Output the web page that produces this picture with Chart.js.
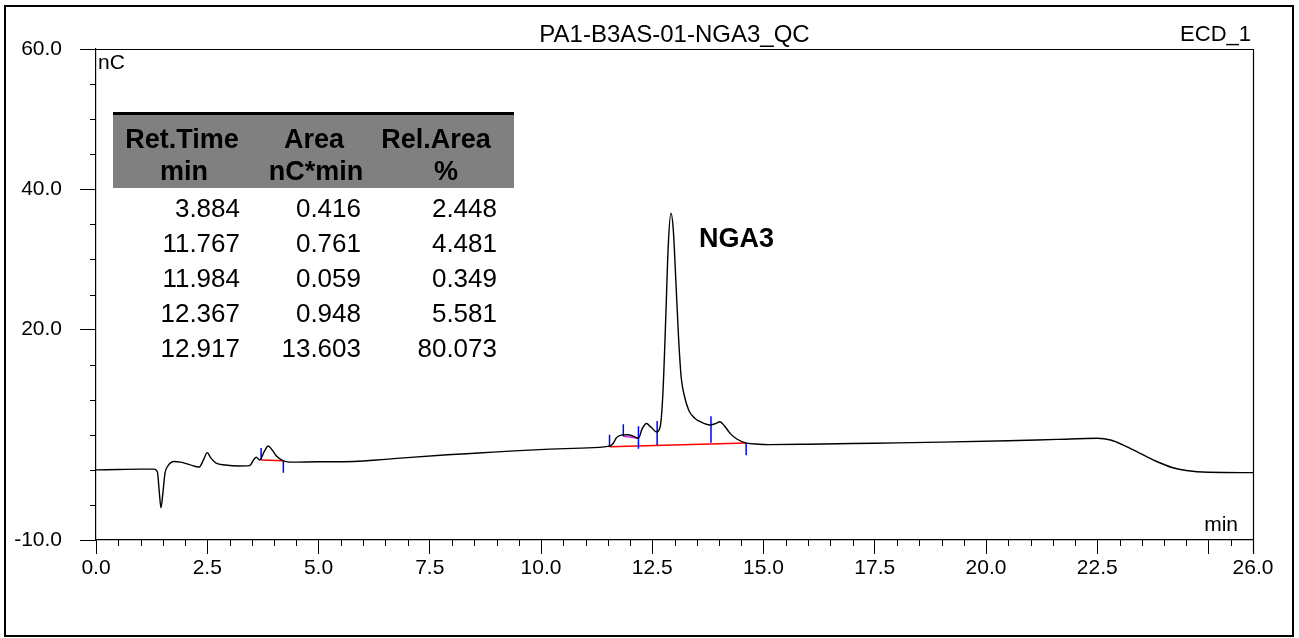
<!DOCTYPE html>
<html>
<head>
<meta charset="utf-8">
<title>PA1-B3AS-01-NGA3_QC</title>
<script src="https://cdn.jsdelivr.net/npm/chart.js@4.4.1/dist/chart.umd.min.js"></script>
<style>
    body { margin: 0; background: #fff; }
    #wrap { position: relative; width: 1299px; height: 638px; }
</style>
</head>
<body>
<div id="wrap"><canvas id="chromChart"></canvas></div>
<script>
// Chromatogram trace (time in min, signal in nC)
const traceTime = [
    0.0, 0.5, 1.0, 1.3, 1.38, 1.42, 1.46, 1.5, 1.55, 1.62, 1.75, 1.9, 2.1, 2.32, 2.42, 2.5, 2.58, 2.7, 2.9, 3.2,
    3.45, 3.55, 3.6, 3.68, 3.78, 3.87, 3.95, 4.05, 4.2, 4.35, 5.0, 5.8, 6.5, 7.0, 7.9, 8.6, 9.4, 10.2, 10.9, 11.5,
    11.6, 11.7, 11.8, 11.95, 12.07, 12.19, 12.27, 12.37, 12.47, 12.6, 12.68, 12.74, 12.8, 12.86, 12.92, 12.97, 13.03, 13.09, 13.15, 13.22,
    13.32, 13.45, 13.6, 13.8, 13.92, 14.02, 14.12, 14.25, 14.4, 14.6, 14.9, 15.1, 16.0, 17.5, 19.0, 20.5, 21.6, 22.5, 22.8, 23.1,
    23.45, 23.8, 24.2, 24.5, 25.0, 26.0
];
const traceSignal = [
    0.0, 0.05, 0.1, 0.1, -0.3, -3.0, -5.4, -3.5, -0.5, 0.6, 1.2, 1.1, 0.75, 0.4, 1.5, 2.45, 1.7, 0.95, 0.7, 0.55,
    0.6, 1.5, 1.8, 1.4, 2.6, 3.4, 2.9, 2.0, 1.3, 1.1, 1.15, 1.2, 1.5, 1.75, 2.15, 2.4, 2.7, 2.95, 3.1, 3.35,
    3.6, 4.6, 4.95, 5.0, 4.8, 4.5, 5.8, 6.6, 6.1, 5.4, 6.2, 11, 21, 32, 36.6, 34.5, 27, 19, 13.2, 10.6,
    8.5, 7.4, 6.8, 6.4, 6.6, 6.85, 6.3, 5.2, 4.4, 3.85, 3.65, 3.6, 3.65, 3.8, 3.95, 4.15, 4.35, 4.5, 4.25, 3.5,
    2.4, 1.3, 0.3, -0.1, -0.35, -0.4
];

// integration baselines [t1, y1, t2, y2] and peak delimiters [t, yFrom, yTo]
const baselineSegments = [[3.71, 1.42, 4.21, 1.3], [11.54, 3.3, 14.61, 3.83]];
const shoulderBaseline = [[11.85, 4.8, 12.19, 4.5]];
const delimiterTicks = [
    [3.71, 1.4, 3.1], [4.21, 1.3, -0.4], [11.54, 3.3, 5.0], [11.85, 4.8, 6.5],
    [12.19, 3.0, 6.2], [12.61, 3.55, 6.95], [13.82, 3.85, 7.65], [14.61, 3.85, 2.1]
];

// peak table
const retTimes = ['3.884', '11.767', '11.984', '12.367', '12.917'];
const areas = ['0.416', '0.761', '0.059', '0.948', '13.603'];
const relAreas = ['2.448', '4.481', '0.349', '5.581', '80.073'];

// axis labels
const xLabelValues = [0, 2.5, 5, 7.5, 10, 12.5, 15, 17.5, 20, 22.5, 26];
const yLabelValues = [-10, 20, 40, 60];

const FONT = '"Liberation Sans", Arial, sans-serif';

function isMajorX(v) {
    return Math.abs(v / 2.5 - Math.round(v / 2.5)) < 1e-6 || v === 26;
}

function segmentPoints(list) {
    const pts = [];
    list.forEach(function(s) {
        pts.push({x: s[0], y: s[1]}, {x: s[2], y: s[3]}, {x: s[2], y: null});
    });
    return pts;
}

const delimiterData = [];
delimiterTicks.forEach(function(d) {
    delimiterData.push({x: d[0], y: d[1]}, {x: d[0], y: d[2]}, {x: d[0], y: null});
});

// frame, minor ticks, texts and peak table
const decorPlugin = {
    id: 'decor',
    afterDraw: function(chart) {
        const c = chart.ctx;
        const area = chart.chartArea;
        const xs = chart.scales.x;
        const ys = chart.scales.y;
        c.save();

        // outer frame
        c.strokeStyle = '#000';
        c.lineWidth = 2;
        c.strokeRect(5, 6, 1288, 630);

        // top and right border of plot
        c.lineWidth = 1.2;
        c.beginPath();
        c.moveTo(area.left, area.top + 0.5);
        c.lineTo(area.right + 0.5, area.top + 0.5);
        c.lineTo(area.right + 0.5, area.bottom + 14);
        c.stroke();

        // minor ticks
        c.lineWidth = 1;
        c.beginPath();
        for (let v = 0.5; v < 26; v += 0.5) {
            if (isMajorX(v)) continue;
            const px = Math.round(xs.getPixelForValue(v)) + 0.5;
            c.moveTo(px, area.bottom);
            c.lineTo(px, area.bottom + 6);
        }
        for (let v = -5; v < 60; v += 5) {
            if (yLabelValues.indexOf(v) >= 0) continue;
            const py = Math.round(ys.getPixelForValue(v)) + 0.5;
            c.moveTo(area.left - 6, py);
            c.lineTo(area.left, py);
        }
        c.stroke();

        // titles and units
        c.fillStyle = '#000';
        c.textBaseline = 'middle';
        c.font = '24px ' + FONT;
        c.textAlign = 'center';
        c.fillText('PA1-B3AS-01-NGA3_QC', (area.left + area.right) / 2, 35);
        c.font = '22px ' + FONT;
        c.textAlign = 'right';
        c.fillText('ECD_1', area.right - 2, 35);
        c.font = '21px ' + FONT;
        c.textAlign = 'left';
        c.fillText('nC', area.left + 2, 63);
        c.textAlign = 'right';
        c.fillText('min', area.right - 15, 525);

        // peak name
        c.font = 'bold 27px ' + FONT;
        c.textAlign = 'left';
        c.fillText('NGA3', xs.getPixelForValue(13.55), ys.getPixelForValue(32.8));

        // peak table
        c.fillStyle = '#808080';
        c.fillRect(113, 114, 401, 74);
        c.fillStyle = '#000';
        c.fillRect(113, 112, 401, 3);
        c.font = 'bold 27px ' + FONT;
        c.textAlign = 'center';
        const heads = [['Ret.Time', 'min', 182, 184], ['Area', 'nC*min', 314, 316], ['Rel.Area', '%', 436, 446]];
        heads.forEach(function(h) {
            c.fillText(h[0], h[2], 141);
            c.fillText(h[1], h[3], 173);
        });
        c.font = '26px ' + FONT;
        c.textAlign = 'right';
        retTimes.forEach(function(rt, i) {
            const y = 210 + i * 35;
            c.fillText(rt, 240, y);
            c.fillText(areas[i], 361, y);
            c.fillText(relAreas[i], 497, y);
        });
        c.restore();
    }
};

const ctx = document.getElementById('chromChart');
new Chart(ctx, {
    type: 'line',
    data: {
        datasets: [{
            data: traceTime.map(function(t, i) { return {x: t, y: traceSignal[i]}; }),
            borderColor: '#000',
            borderWidth: 1.4,
            pointRadius: 0,
            cubicInterpolationMode: 'monotone',
            order: 0
        }, {
            data: segmentPoints(baselineSegments),
            borderColor: '#ff0000',
            borderWidth: 1.5,
            pointRadius: 0,
            spanGaps: false,
            order: 2
        }, {
            data: segmentPoints(shoulderBaseline),
            borderColor: '#e020e0',
            borderWidth: 1.5,
            pointRadius: 0,
            spanGaps: false,
            order: 2
        }, {
            data: delimiterData,
            borderColor: '#0000ff',
            borderWidth: 1.5,
            pointRadius: 0,
            spanGaps: false,
            order: 1
        }]
    },
    options: {
        responsive: true,
        maintainAspectRatio: false,
        animation: false,
        devicePixelRatio: 1,
        layout: {
            padding: {top: 49, right: 46, left: 0, bottom: 0}
        },
        plugins: {
            legend: {display: false},
            tooltip: {enabled: false}
        },
        scales: {
            x: {
                type: 'linear',
                min: 0,
                max: 26,
                afterFit: function(scale) { scale.height = 98; },
                afterBuildTicks: function(scale) {
                    scale.ticks = xLabelValues.concat([25]).sort(function(a, b) { return a - b; })
                        .map(function(v) { return {value: v}; });
                },
                ticks: {
                    autoSkip: false,
                    maxRotation: 0,
                    padding: 2,
                    color: '#000',
                    font: {family: FONT, size: 21},
                    callback: function(value) {
                        return xLabelValues.indexOf(value) >= 0 ? value.toFixed(1) : '';
                    }
                },
                grid: {
                    drawOnChartArea: false,
                    tickLength: 14,
                    tickColor: '#000',
                    tickWidth: 1
                },
                border: {color: '#000', width: 1.2}
            },
            y: {
                type: 'linear',
                min: -10,
                max: 60,
                afterFit: function(scale) { scale.width = 96; },
                afterBuildTicks: function(scale) {
                    scale.ticks = yLabelValues.map(function(v) { return {value: v}; });
                },
                ticks: {
                    padding: 18,
                    color: '#000',
                    font: {family: FONT, size: 21},
                    callback: function(value) { return value.toFixed(1); }
                },
                grid: {
                    drawOnChartArea: false,
                    tickLength: 16,
                    tickColor: '#000',
                    tickWidth: 1
                },
                border: {color: '#000', width: 1.2}
            }
        }
    },
    plugins: [decorPlugin]
});
</script>
</body>
</html>
